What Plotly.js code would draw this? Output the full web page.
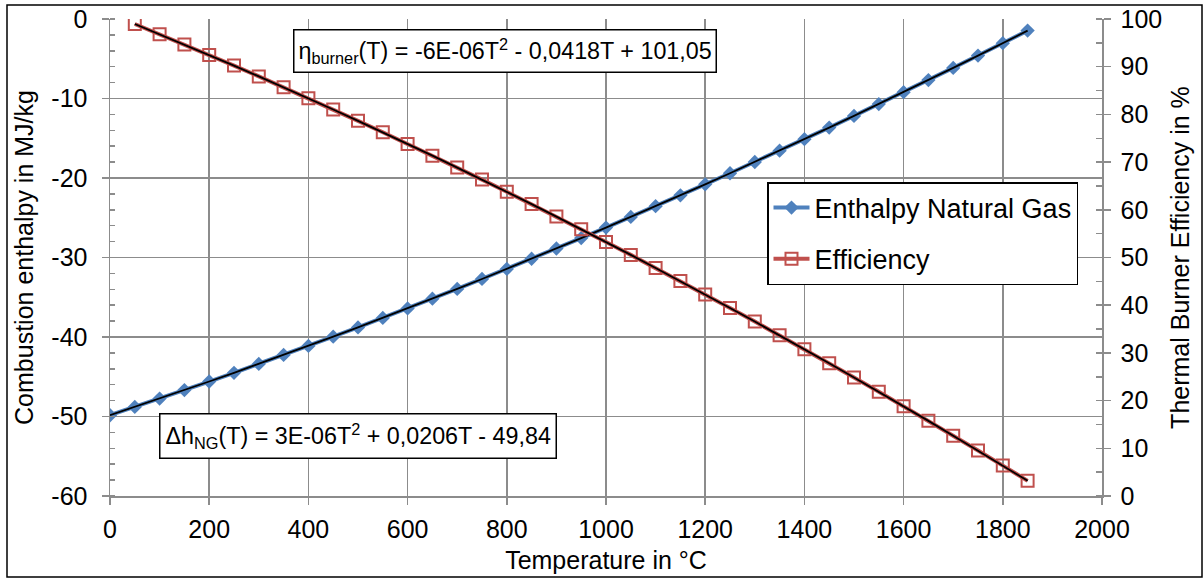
<!DOCTYPE html>
<html>
<head>
<meta charset="utf-8">
<script src="https://cdn.plot.ly/plotly-3.0.1.min.js"></script>
<style>
html,body{margin:0;padding:0;background:#fff;}
#chart{width:1204px;height:579px;}
</style>
</head>
<body>
<div id="chart"></div>
<script>
// Temperature in °C
const tempEnthalpy = [0,50,100,150,200,250,300,350,400,450,500,550,600,650,700,750,800,850,900,950,1000,1050,1100,1150,1200,1250,1300,1350,1400,1450,1500,1550,1600,1650,1700,1750,1800,1850];
// Combustion enthalpy natural gas in MJ/kg
const enthalpyNG = [-49.84,-48.80,-47.75,-46.68,-45.60,-44.50,-43.39,-42.26,-41.12,-39.96,-38.79,-37.60,-36.40,-35.18,-33.95,-32.70,-31.44,-30.16,-28.87,-27.56,-26.24,-24.90,-23.55,-22.18,-20.80,-19.40,-17.99,-16.56,-15.12,-13.66,-12.19,-10.70,-9.20,-7.68,-6.15,-4.60,-3.04,-1.46];
const tempEfficiency = [50,100,150,200,250,300,350,400,450,500,550,600,650,700,750,800,850,900,950,1000,1050,1100,1150,1200,1250,1300,1350,1400,1450,1500,1550,1600,1650,1700,1750,1800,1850];
// Thermal burner efficiency in %
const efficiency = [98.95,96.81,94.65,92.45,90.23,87.97,85.69,83.37,81.03,78.65,76.25,73.81,71.35,68.85,66.33,63.77,61.19,58.57,55.93,53.25,50.55,47.81,45.05,42.25,39.43,36.57,33.69,30.77,27.83,24.85,21.85,18.81,15.75,12.65,9.53,6.37,3.18];

// Tick labels
const yTickVals = [0,-10,-20,-30,-40,-50,-60];
const yTickText = ["0","-10","-20","-30","-40","-50","-60"];

const seriesNames = ["Enthalpy Natural Gas", "Efficiency"];
const xTitle = "Temperature in °C";
const yTitle = "Combustion enthalpy in MJ/kg";
const y2Title = "Thermal Burner Efficiency in %";
const etaLabel = "η<sub>burner</sub>(T) = -6E-06T<sup>2</sup> - 0,0418T + 101,05";
const dhLabel = "Δh<sub>NG</sub>(T) = 3E-06T<sup>2</sup> + 0,0206T - 49,84";

const FONT = "Liberation Sans, Arial, sans-serif";
const GRID = "#8c8c8c";
const BLUE = "#4F81BD";
const RED = "#C0504D";
const FS = 25;

const traces = [
  {x: tempEnthalpy, y: enthalpyNG, name: seriesNames[0], legendgroup: "a", type: "scatter", mode: "lines+markers",
   line: {color: BLUE, width: 4}, marker: {symbol: "diamond", size: 11, color: BLUE, line:{color:BLUE,width:0}}, yaxis: "y"},
  {x: tempEfficiency, y: efficiency, name: seriesNames[1], legendgroup: "b", type: "scatter", mode: "lines+markers",
   line: {color: RED, width: 4}, marker: {symbol: "square-open", size: 12, color: RED, line:{color:RED,width:2}}, yaxis: "y2"},
  {x: tempEnthalpy, y: enthalpyNG, type: "scatter", mode: "lines", showlegend: false, hoverinfo: "skip",
   line: {color: "#000", width: 1.8}, yaxis: "y"},
  {x: tempEfficiency, y: efficiency, type: "scatter", mode: "lines", showlegend: false, hoverinfo: "skip",
   line: {color: "#000", width: 1.8}, yaxis: "y2"}
];

const L = 110, R = 102, T = 19, B = 83;
const PW = 1204 - L - R, PH = 579 - T - B;
const px = v => (v - L) / PW;
const py = v => (579 - B - v) / PH;

const layout = {
  width: 1204, height: 579,
  margin: {l: L, r: R, t: T, b: B, pad: 0},
  paper_bgcolor: "#fff", plot_bgcolor: "#fff",
  font: {family: FONT, size: FS, color: "#000"},
  showlegend: true,
  legend: {x: px(1078), xanchor: "right", y: py(182), yanchor: "top",
           bgcolor: "#fff", bordercolor: "#000", borderwidth: 1.5,
           font: {family: FONT, size: 27, color: "#000"}, tracegroupgap: 13, itemwidth: 36},
  xaxis: {range: [0, 2000], dtick: 200, tick0: 0, showgrid: true, gridcolor: GRID, gridwidth: 1.5,
          showline: true, linecolor: GRID, linewidth: 1.5, ticks: "outside", ticklen: 7, tickcolor: GRID, tickwidth: 1.5,
          ticklabelstandoff: 3,
          zeroline: false, tickfont: {size: FS}, title: {text: xTitle, font: {size: FS}, standoff: 10}},
  yaxis: {range: [-60, 0], tickmode: "array", tickvals: yTickVals, ticktext: yTickText, showgrid: true, gridcolor: GRID, gridwidth: 1.5,
          showline: true, linecolor: GRID, linewidth: 1.5, ticks: "outside", ticklen: 7, tickcolor: GRID, tickwidth: 1.5,
          ticklabelstandoff: 9,
          minor: {dtick: 2, ticks: "inside", ticklen: 5, tickcolor: GRID, tickwidth: 1.5, showgrid: false},
          zeroline: false, tickfont: {size: FS}, title: {text: yTitle, font: {size: FS}, standoff: 10}},
  yaxis2: {range: [0, 100], dtick: 10, tick0: 0, overlaying: "y", side: "right", showgrid: false,
           showline: true, linecolor: GRID, linewidth: 1.5, ticks: "outside", ticklen: 7, tickcolor: GRID, tickwidth: 1.5,
           ticklabelstandoff: 5,
           minor: {dtick: 5, ticks: "inside", ticklen: 6, tickcolor: GRID, tickwidth: 1.5, showgrid: false},
           zeroline: false, tickfont: {size: FS}, title: {text: y2Title, font: {size: FS}, standoff: 10}},
  annotations: [
    {xref: "paper", yref: "paper", x: px(293), y: py(51), xanchor: "left", yanchor: "middle",
     text: etaLabel, showarrow: false, font: {family: FONT, size: 23.3, color: "#000"},
     bgcolor: "#fff", bordercolor: "#000", borderwidth: 1.5, borderpad: 4},
    {xref: "paper", yref: "paper", x: px(159), y: py(435.5), xanchor: "left", yanchor: "middle",
     text: dhLabel, showarrow: false, font: {family: FONT, size: 23.3, color: "#000"},
     bgcolor: "#fff", bordercolor: "#000", borderwidth: 1.5, borderpad: 5}
  ],
  shapes: [
    {type: "rect", xref: "paper", yref: "paper", x0: px(7), x1: px(1202), y0: py(577), y1: py(5),
     line: {color: "#000", width: 1.5}, fillcolor: "rgba(0,0,0,0)", layer: "above"}
  ]
};

Plotly.newPlot("chart", traces, layout, {displayModeBar: false, staticPlot: true});
</script>
</body>
</html>
